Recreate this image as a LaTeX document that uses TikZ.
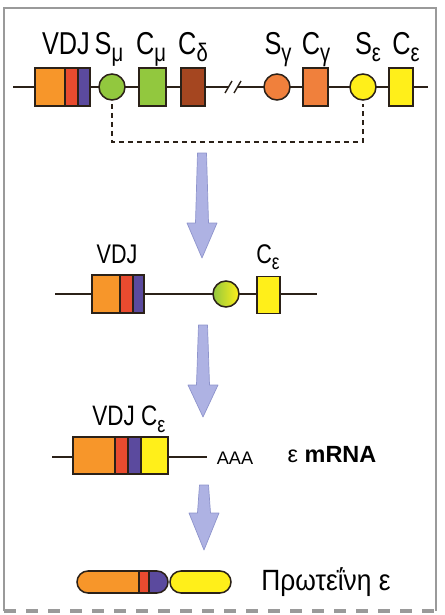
\documentclass[tikz,border=0pt]{standalone}
\usepackage{graphicx}
\usepackage{fontspec}
\setmainfont{Liberation Sans}
\newfontfamily\genefont[FakeStretch=0.8]{Liberation Sans}
\newfontfamily\protfont[FakeStretch=0.9]{Liberation Sans}
\usepackage{tikz}
\usetikzlibrary{shapes.misc}
\definecolor{outline}{HTML}{2B2118}
\definecolor{cOrange}{HTML}{F7962A}
\definecolor{cRed}{HTML}{E94B2F}
\definecolor{cBlue}{HTML}{5B4A9E}
\definecolor{cGreen}{HTML}{92C83E}
\definecolor{cBrown}{HTML}{A54620}
\definecolor{cGamma}{HTML}{F0803C}
\definecolor{cYellow}{HTML}{FFEF1A}
\definecolor{arrowfill}{HTML}{AEB2E3}
\definecolor{arrowedge}{HTML}{8E94CC}
\definecolor{framegray}{HTML}{9A9A9A}
\newcommand\gsub[1]{\raisebox{-0.25em}{\scalebox{0.8}{#1}}}

\begin{document}
\begin{tikzpicture}[x=0.03cm, y=-0.03cm,
    gene/.style 2 args={draw=outline, line width=1.3pt, fill=#1,
                  minimum width=#2, minimum height=1.14cm, inner sep=0pt},
    sregion/.style={circle, draw=outline, line width=1.3pt, fill=#1,
                  minimum size=0.78cm, inner sep=0pt},
    capsule/.style 2 args={rounded rectangle, draw=outline, line width=1.3pt,
                  fill=#1, minimum width=#2, minimum height=0.66cm, inner sep=0pt},
    dna/.style={line width=2pt, draw=outline},
    joinline/.style={line width=1.9pt, draw=outline,
                  dash pattern=on 0.15cm off 0.12cm,
                  shorten <=0.09cm, shorten >=0.09cm},
    bigarrow/.style={fill=arrowfill, draw=arrowedge, line width=0.6pt,
                  line join=round},
    lbl/.style={anchor=base, inner sep=0pt, font=\genefont\fontsize{#1}{#1}\selectfont},
    frame/.style={draw=framegray, line width=1.3pt},
  ]
    \useasboundingbox (0,0) rectangle (444,615);

    % --- frame ------------------------------------------------------------
    \draw[frame] (4,611) -- (4,8) -- (436,8) -- (436,611);
    \draw[frame, line width=2.6pt, dash pattern=on 0.36cm off 0.3cm]
      (4,611) -- (436,611);

    % --- germline locus ---------------------------------------------------
    \coordinate (g0) at (13,87);   \coordinate (g1) at (229,87);
    \coordinate (g2) at (237,87);  \coordinate (g3) at (428,87);
    \draw[dna] (g0) -- (g1);  \draw[dna] (g2) -- (g3);
    \draw[line width=1.2pt, outline] (225,93) -- (232,81);
    \draw[line width=1.2pt, outline] (234,93) -- (241,81);

    \node[gene={cOrange}{0.9cm}]  (vdjO) at (50,87)   {};
    \node[gene={cRed}{0.39cm}]    (vdjR) at (71.5,87) {};
    \node[gene={cBlue}{0.36cm}]   (vdjB) at (84,87)   {};
    \node[sregion=cGreen]         (smu)  at (112,87)  {};
    \node[gene={cGreen}{0.81cm}]  (cmu)  at (152.5,87){};
    \node[gene={cBrown}{0.72cm}]  (cdel) at (193,87)  {};
    \node[sregion=cGamma]         (sgam) at (277,87)  {};
    \node[gene={cGamma}{0.75cm}]  (cgam) at (315.5,87){};
    \node[sregion=cYellow]        (seps) at (363,87)  {};
    \node[gene={cYellow}{0.72cm}] (ceps) at (401,87)  {};

    \node[lbl=27] (tVdj)  at (66,54)  {VDJ};
    \node[lbl=27] (tSmu)  at (109,54) {S\gsub{μ}};
    \node[lbl=27] (tCmu)  at (151,54) {C\gsub{μ}};
    \node[lbl=27] (tCdel) at (193,54) {C\gsub{δ}};
    \node[lbl=27] (tSgam) at (278,54) {S\gsub{γ}};
    \node[lbl=27] (tCgam) at (316,54) {C\gsub{γ}};
    \node[lbl=27] (tSeps) at (368,54) {S\gsub{ε}};
    \node[lbl=27] (tCeps) at (406,54) {C\gsub{ε}};

    % switch recombination S_mu -> S_epsilon
    \coordinate (dip) at (237,142);
    \draw[joinline] (smu.south) |- (dip) -| (seps.south);

    % --- big arrows -------------------------------------------------------
    \draw[bigarrow] (197.5,153) -- (206.5,153) -- (208.5,223) -- (217,223)
      -- (202,258) -- (187,223) -- (195.5,223) -- cycle;
    \draw[bigarrow] (198.5,325) -- (207.5,325) -- (209.5,385) -- (218,385)
      -- (203,417) -- (188,385) -- (196.5,385) -- cycle;
    \draw[bigarrow] (199.5,485) -- (208.5,485) -- (210.5,513) -- (219,513)
      -- (204,550) -- (189,513) -- (197.5,513) -- cycle;

    % --- switched DNA -----------------------------------------------------
    \coordinate (s0) at (55,294);  \coordinate (s1) at (317,294);
    \draw[dna] (s0) -- (s1);
    \node[gene={cOrange}{0.84cm}]  (sdO)  at (106,294)   {};
    \node[gene={cRed}{0.39cm}]     (sdR)  at (126.5,294) {};
    \node[gene={cBlue}{0.33cm}]    (sdB)  at (138.5,294) {};
    \node[sregion=cGreen, left color=cGreen, right color=cYellow]
                                   (shyb) at (226,294)   {};
    \node[gene={cYellow}{0.69cm}, minimum height=1.11cm]
                                   (sCe)  at (268.5,295) {};
    \node[lbl=23] (tsVdj) at (117,263) {VDJ};
    \node[lbl=23] (tsCe)  at (268,263) {C\gsub{ε}};

    % --- mRNA -------------------------------------------------------------
    \coordinate (m0) at (52,457);  \coordinate (m1) at (207,457);
    \draw[dna] (m0) -- (m1);
    \node[gene={cOrange}{1.26cm}, minimum height=1.11cm] (mO) at (94,455.5)    {};
    \node[gene={cRed}{0.39cm}, minimum height=1.11cm]    (mR) at (121.5,455.5) {};
    \node[gene={cBlue}{0.39cm}, minimum height=1.11cm]   (mB) at (134.5,455.5) {};
    \node[gene={cYellow}{0.81cm}, minimum height=1.11cm] (mY) at (154.5,455.5) {};
    \node[lbl=24] (tmLab) at (129,425) {VDJ C\gsub{ε}};
    \node[anchor=base, inner sep=0pt, font=\fontsize{15.5}{15.5}\selectfont]
      (tAAA) at (235,464) {AAA};
    \node[anchor=base, inner sep=0pt, font=\fontsize{20}{20}\selectfont]
      (tmRNA) at (332,462) {ε \textbf{mRNA}};

    % --- protein ----------------------------------------------------------
    \node[capsule={cOrange}{2.73cm}, path picture={
        \fill[cRed] ([xshift=1.86cm]path picture bounding box.south west)
          rectangle ([xshift=2.16cm]path picture bounding box.north west);
        \fill[cBlue] ([xshift=2.16cm]path picture bounding box.south west)
          rectangle (path picture bounding box.north east);
        \draw[outline, line width=1.1pt]
          ([xshift=1.86cm]path picture bounding box.south west)
          -- ([xshift=1.86cm]path picture bounding box.north west);
        \draw[outline, line width=1.1pt]
          ([xshift=2.16cm]path picture bounding box.south west)
          -- ([xshift=2.16cm]path picture bounding box.north west);
      }] (pH) at (122.5,582) {};
    \node[capsule={cYellow}{1.83cm}] (pE) at (200.5,582) {};
    \node[anchor=base, inner sep=0pt, font=\protfont\fontsize{25}{25}\selectfont]
      (tProt) at (326,590) {Πρωτεΐνη ε};
\end{tikzpicture}
\end{document}
